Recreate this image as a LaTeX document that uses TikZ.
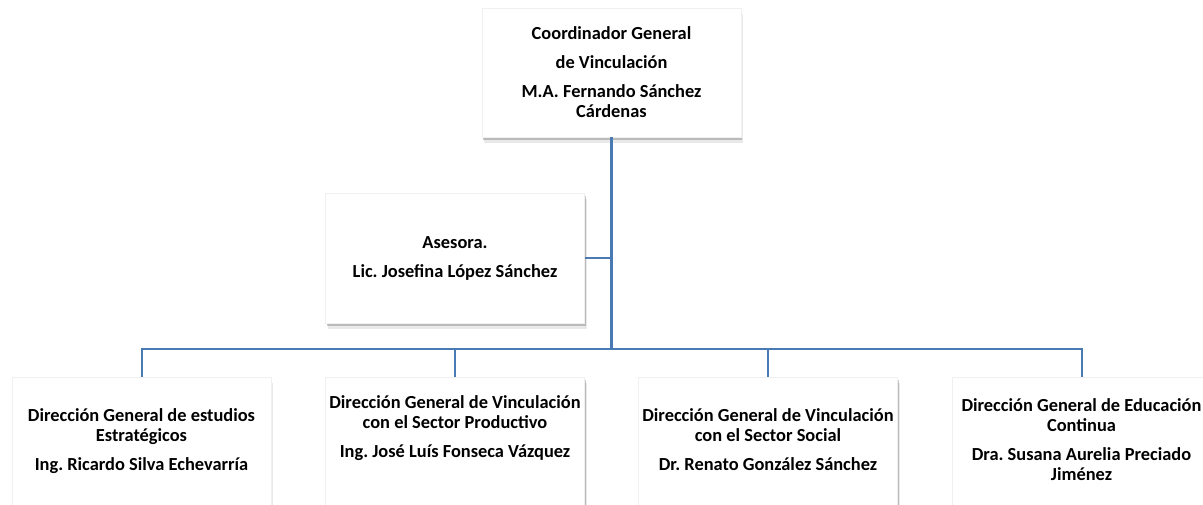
\documentclass[tikz,border=0pt]{standalone}
\usepackage{fontspec}
\setmainfont{Carlito}
\usepackage{tikz}
\usetikzlibrary{shadows}
\frenchspacing
\definecolor{linkblue}{RGB}{74,122,180}
\tikzset{
	card/.style={rectangle, fill=white, draw=black!6, line width=.6pt, minimum width=259pt, inner sep=0pt,
		drop shadow={shadow xshift=1pt, shadow yshift=-3pt, opacity=.3, fill=black!70},
		drop shadow={shadow xshift=2pt, shadow yshift=-5.5pt, opacity=.12, fill=black!70}},
	cardtext/.style={align=center, inner sep=0pt, font=\fontsize{18.4}{20}\selectfont\bfseries},
	link/.style={draw=linkblue, line width=2pt}
}
\begin{document}
\begin{tikzpicture}[x=1pt,y=-1pt]
				\useasboundingbox (0,0) rectangle (1203,504);
				\clip (0,0) rectangle (1203,504);
				\node[card, cardtext, minimum height=129pt] (coord) at (611.5,72.5) {Coordinador General\\[9pt] de Vinculación\\[9pt] M.A. Fernando Sánchez\\ Cárdenas};
				\node[card, cardtext, minimum height=130pt] (asesora) at (455,258) {Asesora.\\[9pt] Lic. Josefina López Sánchez};
				\coordinate (bus) at (611.5,349);
				\foreach \n/\x in {dgee/141.5, dgvp/455, dgvs/768, dgec/1081.5}
				\node[card, minimum height=140pt, anchor=north] (\n) at (\x,377) {};
				\node[cardtext, anchor=base, yshift=-93pt] at (dgee.north) {Dirección General de estudios\\ Estratégicos\\[9pt] Ing. Ricardo Silva Echevarría};
				\node[cardtext, anchor=base, yshift=-80pt] at (dgvp.north) {Dirección General de Vinculación\\ con el Sector Productivo\\[9pt] Ing. José Luís Fonseca Vázquez};
				\node[cardtext, anchor=base, yshift=-93pt] at (dgvs.north) {Dirección General de Vinculación\\ con el Sector Social\\[9pt] Dr. Renato González Sánchez};
				\node[cardtext, anchor=base, yshift=-103pt] at (dgec.north) {Dirección General de Educación\\ Continua\\[9pt] Dra. Susana Aurelia Preciado\\ Jiménez};
				\draw[link, line width=2.5pt] (coord.south) -- (bus);
				\draw[link] (asesora.east) -- (asesora.east -| bus);
				\foreach \n in {dgee,dgvp,dgvs,dgec}
				\draw[link] (bus) -| (\n.north);
\end{tikzpicture}
\end{document}
